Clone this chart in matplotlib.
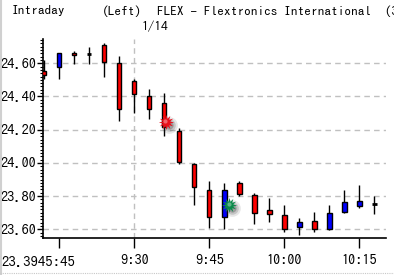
import matplotlib

matplotlib.use("Agg")

import matplotlib.pyplot as plt
import numpy as np
from matplotlib.lines import Line2D

# minutes after 9:00, one candle every 3 minutes
times = [12, 15, 18, 21, 24, 27, 30, 33, 36, 39, 42, 45,
         48, 51, 54, 57, 60, 63, 66, 69, 72, 75, 78]
opens = [24.552, 24.576, 24.660, 24.657, 24.709, 24.600, 24.491, 24.400,
         24.362, 24.195, 23.996, 23.839, 23.674, 23.878, 23.806, 23.717,
         23.688, 23.615, 23.649, 23.600, 23.704, 23.742, 23.750]
highs = [24.620, 24.660, 24.674, 24.697, 24.720, 24.642, 24.503, 24.445,
         24.422, 24.211, 24.002, 23.891, 23.879, 23.891, 23.818, 23.789,
         23.747, 23.671, 23.703, 23.747, 23.836, 23.865, 23.800]
lows = [24.503, 24.503, 24.594, 24.596, 24.519, 24.254, 24.302, 24.262,
        24.160, 23.994, 23.745, 23.610, 23.600, 23.800, 23.635, 23.645,
        23.582, 23.567, 23.582, 23.596, 23.697, 23.729, 23.690]
closes = [24.528, 24.660, 24.648, 24.657, 24.606, 24.322, 24.417, 24.322,
          24.215, 24.006, 23.853, 23.674, 23.839, 23.810, 23.701, 23.693,
          23.602, 23.647, 23.603, 23.701, 23.763, 23.768, 23.750]

# signal markers (time, price)
sell_signal = (36.4, 24.246)
buy_signal = (49.0, 23.745)

y_ticks = [23.60, 23.80, 24.00, 24.20, 24.40, 24.60]
x_ticks = [15, 30, 45, 60, 75]
x_tick_labels = ["", "9:30", "9:45", "10:00", "10:15"]

plt.rcParams["font.family"] = ["IPAGothic", "DejaVu Sans"]

fig = plt.figure(figsize=(3.94, 2.75), dpi=100)
W, H = 394, 275
ax = fig.add_axes([43 / W, (H - 238.3) / H, (386 - 43) / W, (238.3 - 39) / H])

ax.set_xlim(11.8, 80.3)
ax.set_ylim(23.546, 24.746)

# grid
for yv in y_ticks:
    ax.axhline(yv, color="#c0c0c0", linewidth=1.0, linestyle=(0, (4, 3)), zorder=0)
ax.axvline(30, color="#c0c0c0", linewidth=1.0, linestyle=(0, (4, 3)), zorder=0)

body_w = 0.9
for t, o, h, l, c in zip(times, opens, highs, lows, closes):
    ax.vlines(t, l, h, color="black", linewidth=1.0, zorder=2)
    if abs(o - c) < 1e-9:
        ax.hlines(o, t - body_w / 2, t + body_w / 2, color="black", linewidth=2.0, zorder=3)
    else:
        color = "#0000ff" if c > o else "#ff0000"
        ax.bar(t, abs(c - o), bottom=min(o, c), width=body_w, color=color,
               edgecolor="black", linewidth=1.0, zorder=3)

# starburst signals with soft shadow
for (sx, sy), col in [(sell_signal, "#e8101c"), (buy_signal, "#0a8a4a")]:
    for ms, a in [(12, 0.12), (9, 0.2), (6, 0.3)]:
        ax.plot(sx + 0.6, sy - 0.015, marker="o", markersize=ms, color="#404040",
                alpha=a, markeredgewidth=0, zorder=4)
    ax.plot(sx, sy, marker=(12, 1, 0), markersize=11, color=col,
            markeredgewidth=0, zorder=5)
    ax.plot(sx - 0.15, sy + 0.006, marker="o", markersize=3, color="white",
            alpha=0.35, markeredgewidth=0, zorder=6)

ax.set_yticks(y_ticks)
ax.set_yticklabels([f"{v:.2f}" for v in y_ticks])
ax.set_yticks(np.arange(23.56, 24.75, 0.02), minor=True)
ax.set_xticks(x_ticks)
ax.set_xticklabels(x_tick_labels)

for side in ["top", "right"]:
    ax.spines[side].set_visible(False)
ax.spines["left"].set_linewidth(1.2)
ax.spines["bottom"].set_linewidth(1.2)
ax.tick_params(axis="y", which="major", direction="out", length=4, width=1,
               labelsize=10.4, pad=1)
ax.tick_params(axis="y", which="minor", direction="out", length=2, width=0.8)
ax.tick_params(axis="x", which="major", direction="out", length=7, width=1,
               labelsize=10.4, pad=4)

# header
fig.text(12 / W, 1 - 11 / H, "Intraday", fontsize=9.6, va="center", ha="left")
fig.text(102 / W, 1 - 11 / H, "(Left)", fontsize=9.6, va="center", ha="left")
fig.text(157 / W, 1 - 11 / H, "FLEX - Flextronics International  (3",
         fontsize=9.6, va="center", ha="left")
fig.text(155 / W, 1 - 27 / H, "1/14", fontsize=9.6, va="center", ha="center")
fig.text(1 / W, 1 - 262 / H, "23.3945:45", fontsize=10.6, va="center", ha="left")

# frame edges of the panel
fig.add_artist(Line2D([1 / W, 1 / W], [0, 1], color="#d0d0d0", linewidth=1.5))
fig.add_artist(Line2D([0, 1], [2 / H, 2 / H], color="#c8c8c8", linewidth=0.8,
                      linestyle=(0, (1, 1))))

fig.savefig("out.png", dpi=100)
